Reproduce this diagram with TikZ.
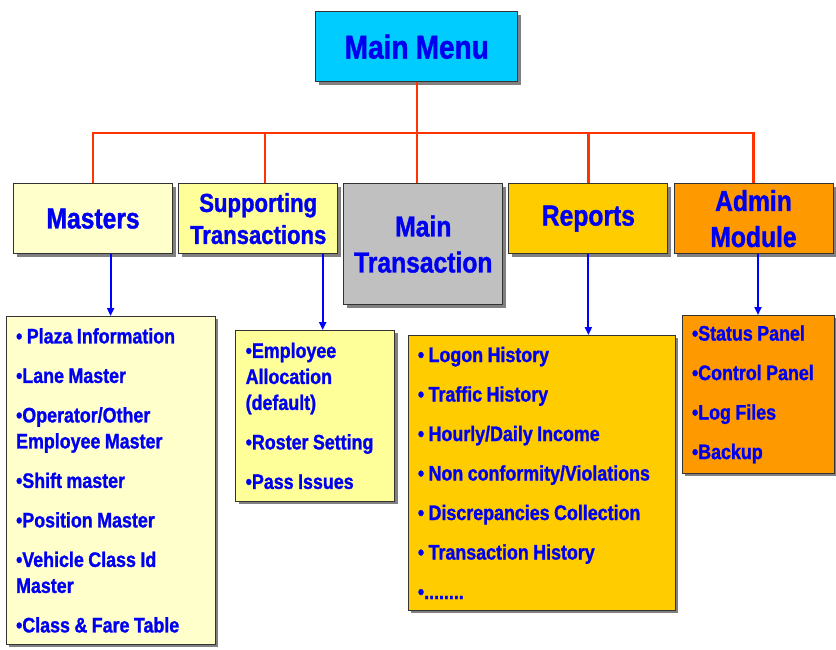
\documentclass[tikz,border=0pt]{standalone}
\usepackage{fontspec}
\setmainfont{Liberation Sans}[FakeStretch=0.85,WordSpace={0.9,0,0},BoldFeatures={FakeBold=1.2}]
\usepackage{tikz}
\usetikzlibrary{positioning,matrix,calc,arrows.meta,shadows}

\definecolor{menucol}{HTML}{00CCFF}
\definecolor{pale}{HTML}{FFFFCC}
\definecolor{lemon}{HTML}{FFFF99}
\definecolor{silver}{HTML}{C0C0C0}
\definecolor{gold}{HTML}{FFCC00}
\definecolor{amber}{HTML}{FF9900}
\definecolor{busred}{HTML}{FF3300}
\definecolor{txtblue}{HTML}{0000F0}

\tikzset{
  boxbase/.style={draw=black!80, line width=0.8pt, text=txtblue,
    drop shadow={shadow xshift=3pt, shadow yshift=-3pt, fill=black!50, opacity=1}},
  topbox/.style={boxbase, minimum width=159pt, minimum height=70pt, align=center,
    inner sep=0pt, font=\bfseries\fontsize{29}{36}\selectfont},
  listbox/.style={boxbase, align=left, inner xsep=10pt, inner ysep=0pt,
    font=\bfseries\fontsize{21}{26}\selectfont,
    execute at begin node={\spaceskip=\fontdimen2\font\relax}},
  bus/.style={draw=busred, line width=2.2pt},
  arr/.style={draw=blue, line width=2pt, -{Triangle[length=8pt,width=7pt]}},
}

\begin{document}
\begin{tikzpicture}
\useasboundingbox (0,0) rectangle (836pt,-649pt);
\matrix (row) [matrix anchor=north west, ampersand replacement=\&, column sep=5.3pt, inner sep=0pt, nodes={anchor=north}] at (13pt,-183pt) {
	\node [topbox,fill=pale] (masters) {Masters}; \&
	\node [topbox,fill=lemon,font=\bfseries\fontsize{26}{32}\selectfont] (supp) {Supporting\\Transactions}; \&
	\node [topbox,fill=silver,minimum height=121pt] (mtrans) {Main\\Transaction}; \&
	\node [topbox,fill=gold] (reports) {Reports}; \&
	\node [topbox,fill=amber] (admin) {Admin\\Module}; \\
};
\node [topbox,fill=menucol,minimum width=202pt,font=\bfseries\fontsize{33}{40}\selectfont,above=101pt of mtrans,xshift=-6.5pt] (menu) {Main Menu};

\node [listbox,fill=pale,text width=189pt,minimum height=328pt,below=62pt of masters,xshift=17.5pt] (mlist)
	{• Plaza Information\\[13.5pt] •Lane Master\\[13.5pt] •Operator/Other\\ Employee Master\\[13.5pt] •Shift master\\[13.5pt] •Position Master\\[13.5pt] •Vehicle Class Id\\ Master\\[13.5pt] •Class \& Fare Table};
\node [listbox,fill=lemon,text width=139pt,minimum height=171pt,below=76pt of supp,xshift=57pt] (slist)
	{•Employee\\ Allocation\\ (default)\\[13.5pt] •Roster Setting\\[13.5pt] •Pass Issues};
\node [listbox,fill=gold,text width=247pt,minimum height=275pt,below=81pt of reports,xshift=-47pt] (rlist)
	{• Logon History\\[13.5pt] • Traffic History\\[13.5pt] • Hourly/Daily Income\\[13.5pt] • Non conformity/Violations\\[13.5pt] • Discrepancies Collection\\[13.5pt] • Transaction History\\[13.5pt] •........};
\node [listbox,fill=amber,text width=132pt,minimum height=158pt,below=61pt of admin,xshift=4.5pt] (alist)
	{•Status Panel\\[13.5pt] •Control Panel\\[13.5pt] •Log Files\\[13.5pt] •Backup};

% red bus from the main menu
\coordinate (busy) at ($(menu.south)+(0,-51pt)$);
\coordinate (suppdrop) at ($(supp.north)+(6.5pt,0)$);
\draw [bus] (menu.south) -- (menu.south |- mtrans.north);
\draw [bus] (masters.north) |- (admin.north |- busy) -- (admin.north);
\draw [bus] (suppdrop) -- (suppdrop |- busy);
\draw [bus] (reports.north) -- (reports.north |- busy);

% blue arrows down to the lists
\coordinate (suppout) at ($(supp.south)+(64.5pt,0)$);
\draw [arr] (mlist.north |- masters.south) -- (mlist.north);
\draw [arr] (suppout) -- (suppout |- slist.north);
\draw [arr] (reports.south) -- (reports.south |- rlist.north);
\draw [arr] (alist.north |- admin.south) -- (alist.north);
\end{tikzpicture}
\end{document}
